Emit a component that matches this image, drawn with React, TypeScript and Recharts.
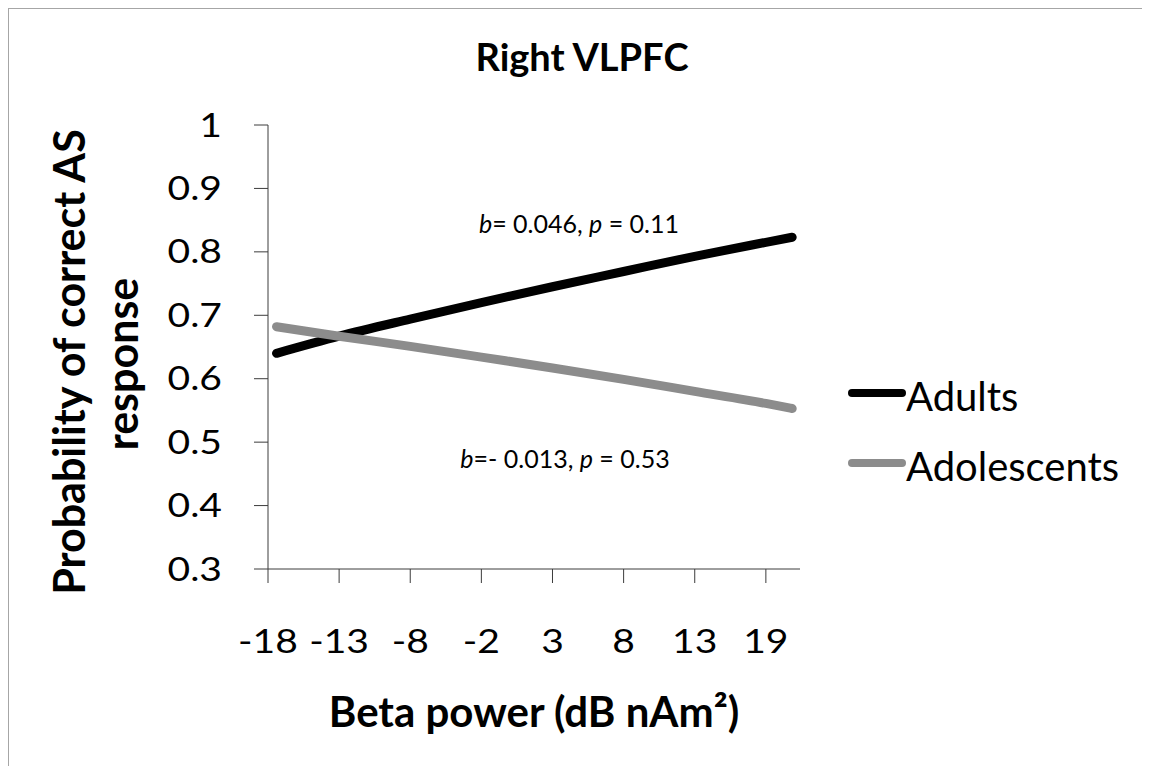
import { LineChart, Line, XAxis, YAxis, Customized } from "recharts"

// category labels of the x axis (Beta power, dB nAm²)
const xLabels = ["-18", "-13", "-8", "-2", "3", "8", "13", "19"]
const xTicks = [0, 1, 2, 3, 4, 5, 6, 7]
// where the fitted lines were read, in tick-index units (they run a bit past "19")
const xPos = [0.12, 1, 2, 3, 4, 5, 6, 7, 7.37]
const adults = [0.64, 0.667, 0.694, 0.72, 0.745, 0.769, 0.793, 0.815, 0.823]
const adolescents = [0.682, 0.667, 0.651, 0.634, 0.617, 0.599, 0.58, 0.561, 0.553]
const yTicks = [0.3, 0.4, 0.5, 0.6, 0.7, 0.8, 0.9, 1]

const series = [
  { key: "adults", name: "Adults", color: "#000000" },
  { key: "adolescents", name: "Adolescents", color: "#8c8c8c" },
]

const data = xPos.map((x, i) => ({ x, adults: adults[i], adolescents: adolescents[i] }))

const FONT = "Lato, 'Open Sans', sans-serif"
const AXIS = "#3c3c3c"

function YTick({ x, y, payload }: any) {
  const v = payload.value as number
  return (
    <text
      transform={`translate(${x},${y}) scale(1.22,1)`}
      textAnchor="end"
      dy="0.36em"
      fontSize={32}
      fontFamily={FONT}
      fill="#000"
    >
      {v === 1 ? "1" : v.toFixed(1)}
    </text>
  )
}

function XTick({ x, y, payload }: any) {
  return (
    <text
      transform={`translate(${x},${y}) scale(1.22,1)`}
      textAnchor="middle"
      fontSize={32}
      fontFamily={FONT}
      fill="#000"
    >
      {xLabels[payload.value]}
    </text>
  )
}

function Texts() {
  return (
    <g fontFamily={FONT} fill="#000">
      <text x={573} y={62} textAnchor="middle" fontSize={38} fontWeight={700}>
        Right VLPFC
      </text>
      <text x={570} y={224} textAnchor="middle" fontSize={25}>
        <tspan fontStyle="italic">b</tspan>= 0.046, <tspan fontStyle="italic">p</tspan> = 0.11
      </text>
      <text x={556} y={459} textAnchor="middle" fontSize={25}>
        <tspan fontStyle="italic">b</tspan>=- 0.013, <tspan fontStyle="italic">p</tspan> = 0.53
      </text>
      <text transform="translate(76,353) rotate(-90)" textAnchor="middle" fontSize={43} fontWeight={700}>
        Probability of correct AS
      </text>
      <text transform="translate(129,355) rotate(-90)" textAnchor="middle" fontSize={43} fontWeight={700}>
        response
      </text>
      <text x={525} y={718} textAnchor="middle" fontSize={42} fontWeight={700}>
        Beta power (dB nAm²)
      </text>
    </g>
  )
}

export default function App() {
  return (
    <div
      style={{
        position: "relative",
        width: 1141,
        height: 757,
        borderTop: "1px solid #a6a6a6",
        borderLeft: "1px solid #a6a6a6",
        background: "#fff",
      }}
    >
      <LineChart width={1141} height={757} data={data} margin={{ top: 116, right: 350, bottom: 47, left: 0 }}>
        <XAxis
          dataKey="x"
          type="number"
          domain={[0, 7.48]}
          ticks={xTicks}
          allowDataOverflow
          height={150}
          stroke={AXIS}
          tickSize={14}
          tickMargin={70}
          tick={XTick}
        />
        <YAxis
          type="number"
          domain={[0.3, 1]}
          ticks={yTicks}
          width={259}
          stroke={AXIS}
          tickSize={14}
          tickMargin={32}
          tick={YTick}
        />
        {series.map((s) => (
          <Line
            key={s.key}
            dataKey={s.key}
            name={s.name}
            type="monotone"
            stroke={s.color}
            strokeWidth={9}
            strokeLinecap="round"
            dot={false}
            activeDot={false}
            isAnimationActive={false}
          />
        ))}
        <Customized component={Texts} />
      </LineChart>

      {/* legend, right of the plot */}
      {series.map((s, i) => (
        <div key={s.key} style={{ position: "absolute", left: 839, top: 367 + i * 70, height: 40 }}>
          <svg width={58} height={40} style={{ position: "absolute", left: 0, top: 0 }}>
            <line x1={4} y1={17} x2={54} y2={17} stroke={s.color} strokeWidth={8} strokeLinecap="round" />
          </svg>
          <span
            style={{
              position: "absolute",
              left: 58,
              top: 0,
              fontFamily: FONT,
              fontSize: 40,
              lineHeight: "40px",
              whiteSpace: "nowrap",
              color: "#000",
            }}
          >
            {s.name}
          </span>
        </div>
      ))}
    </div>
  )
}
